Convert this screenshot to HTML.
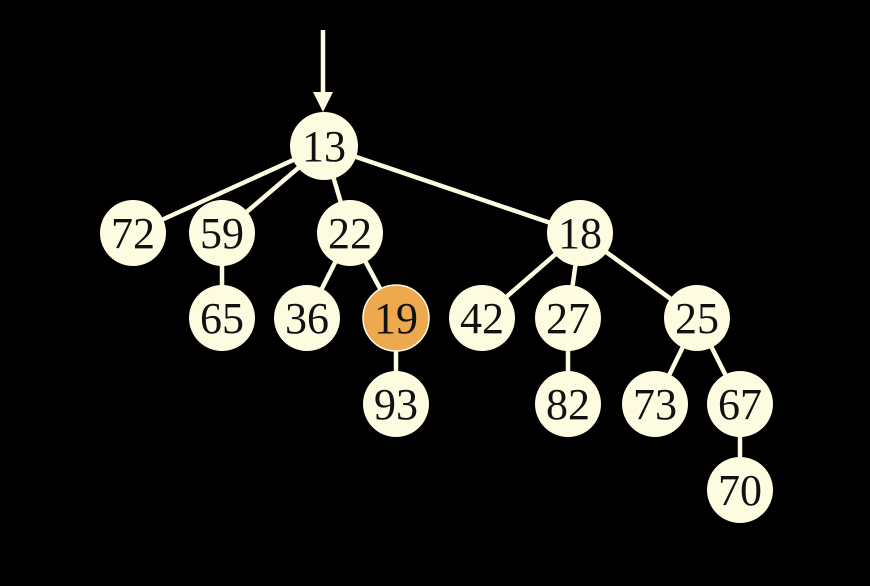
<!DOCTYPE html>
<html><head><style>body{margin:0;background:#000}svg{display:block}</style></head><body>
<svg width="870" height="586" viewBox="0 0 870 586">
<rect width="870" height="586" fill="#000"/>
<g stroke="#fdfbe0" stroke-width="4.5">
<line x1="323" y1="30" x2="323" y2="96"/>
<line x1="324" y1="146" x2="133" y2="233"/>
<line x1="324" y1="146" x2="222" y2="233"/>
<line x1="324" y1="146" x2="350" y2="233"/>
<line x1="324" y1="146" x2="580" y2="233"/>
<line x1="222" y1="233" x2="222" y2="318"/>
<line x1="350" y1="233" x2="307" y2="318"/>
<line x1="350" y1="233" x2="396" y2="318"/>
<line x1="396" y1="318" x2="396" y2="404"/>
<line x1="580" y1="233" x2="482" y2="318"/>
<line x1="580" y1="233" x2="568" y2="318"/>
<line x1="580" y1="233" x2="697" y2="318"/>
<line x1="568" y1="318" x2="568" y2="404"/>
<line x1="697" y1="318" x2="655" y2="404"/>
<line x1="697" y1="318" x2="740" y2="404"/>
<line x1="740" y1="404" x2="740" y2="490"/>
</g>
<polygon points="313,92 333,92 323,112" fill="#fdfbe0"/>
<g fill="#fdfbe0">
<circle cx="324" cy="146" r="34"/>
<circle cx="133" cy="233" r="33"/>
<circle cx="222" cy="233" r="33"/>
<circle cx="350" cy="233" r="33"/>
<circle cx="580" cy="233" r="33"/>
<circle cx="222" cy="318" r="33"/>
<circle cx="307" cy="318" r="33"/>
<circle cx="482" cy="318" r="33"/>
<circle cx="568" cy="318" r="33"/>
<circle cx="697" cy="318" r="33"/>
<circle cx="396" cy="404" r="33"/>
<circle cx="568" cy="404" r="33"/>
<circle cx="655" cy="404" r="33"/>
<circle cx="740" cy="404" r="33"/>
<circle cx="740" cy="490" r="33"/>
</g>
<circle cx="396" cy="318" r="33" fill="#eea84e" stroke="#fdfbe0" stroke-width="1.5"/>
<g font-family="Liberation Serif, serif" font-size="44" fill="#111" text-anchor="middle">
<text x="324" y="161">13</text>
<text x="133" y="248">72</text>
<text x="222" y="248">59</text>
<text x="350" y="248">22</text>
<text x="580" y="248">18</text>
<text x="222" y="333">65</text>
<text x="307" y="333">36</text>
<text x="396" y="333">19</text>
<text x="482" y="333">42</text>
<text x="568" y="333">27</text>
<text x="697" y="333">25</text>
<text x="396" y="419">93</text>
<text x="568" y="419">82</text>
<text x="655" y="419">73</text>
<text x="740" y="419">67</text>
<text x="740" y="505">70</text>
</g>
</svg>
</body></html>
